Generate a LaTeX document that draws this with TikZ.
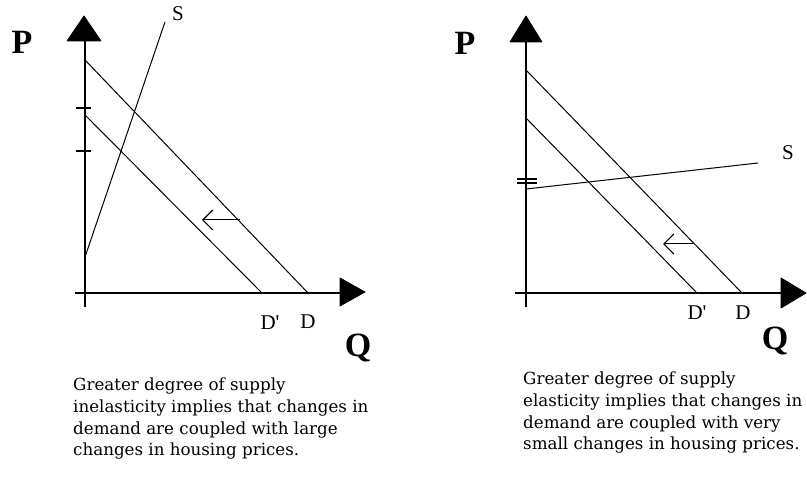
\documentclass[tikz,border=0pt]{standalone}
\usepackage{fontspec}
\setmainfont{Liberation Serif}
\newfontfamily\capfont{DejaVu Serif}
\usetikzlibrary{arrows.meta}
\tikzset{
  axisline/.style={line width=1.6pt},
  curve/.style={line width=1pt},
  tickline/.style={line width=1.4pt},
  headtri/.style={fill=black, draw=black, line width=0.8pt, line join=round},
  shiftarrow/.style={line width=1pt, -{Straight Barb[length=10pt,width=20pt,line width=1.2pt]}},
  axislabel/.style={font=\fontsize{34}{34}\selectfont\bfseries, inner sep=0pt},
  curvelabel/.style={font=\fontsize{21}{21}\selectfont, inner sep=0pt},
  caption/.style={font=\capfont\fontsize{16.7}{21.7}\selectfont, align=left, inner sep=0pt, anchor=north west}
}
\begin{document}
\begin{tikzpicture}[x=1pt,y=-1pt]
\useasboundingbox (0,0) rectangle (807,478);
% ---------- left graph ----------
\coordinate (LYb) at (85,307);
\coordinate (LYt) at (85,41);
\coordinate (LXl) at (75,293);
\coordinate (LXr) at (340,293);
\draw[axisline] (LYb) -- (LYt);
\draw[axisline] (LXl) -- (LXr);
\filldraw[headtri] (67,41) -- (101,41) -- (84,16) -- cycle;
\filldraw[headtri] (340,278) -- (340,306) -- (365,292) -- cycle;
\draw[tickline] (76,108) -- (91,108);
\draw[tickline] (76,151) -- (91,151);
\coordinate (LDa) at (85,60);  \coordinate (LDb) at (308,293);
\coordinate (LDpa) at (85,115); \coordinate (LDpb) at (262,293);
\coordinate (LSa) at (85,257); \coordinate (LSb) at (165,22);
\draw[curve] (LDa) -- (LDb);
\draw[curve] (LDpa) -- (LDpb);
\draw[curve] (LSa) -- (LSb);
\coordinate (LAs) at (240,220); \coordinate (LAe) at (202,220);
\draw[shiftarrow] (LAs) -- (LAe);
\node[curvelabel] (LSl) at (178,14) {S};
\node[curvelabel] (LDpl) at (270,323) {D\textquotesingle};
\node[curvelabel] (LDl) at (308,322) {D};
\node[axislabel] (LP) at (22,42) {P};
\node[axislabel] (LQ) at (358,348) {Q};
\node[caption] (Ltext) at (73,378) {Greater degree of supply\\inelasticity implies that changes in\\demand are coupled with large\\changes in housing prices.};
% ---------- right graph ----------
\coordinate (RYb) at (526,307);
\coordinate (RYt) at (526,42);
\coordinate (RXl) at (515,293);
\coordinate (RXr) at (781,293);
\draw[axisline] (RYb) -- (RYt);
\draw[axisline] (RXl) -- (RXr);
\filldraw[headtri] (510,42) -- (542,42) -- (526,16) -- cycle;
\filldraw[headtri] (781,278) -- (781,308) -- (806,293) -- cycle;
\draw[tickline] (517,179) -- (537,179);
\draw[tickline] (517,183) -- (537,183);
\coordinate (RDa) at (526,70);  \coordinate (RDb) at (742,293);
\coordinate (RDpa) at (526,118); \coordinate (RDpb) at (697,293);
\coordinate (RSa) at (526,189); \coordinate (RSb) at (758,163);
\draw[curve] (RDa) -- (RDb);
\draw[curve] (RDpa) -- (RDpb);
\draw[curve] (RSa) -- (RSb);
\coordinate (RAs) at (693,244); \coordinate (RAe) at (663,244);
\draw[shiftarrow] (RAs) -- (RAe);
\node[curvelabel] (RSl) at (788,153) {S};
\node[curvelabel] (RDpl) at (697,313) {D\textquotesingle};
\node[curvelabel] (RDl) at (743,313) {D};
\node[axislabel] (RP) at (465,43) {P};
\node[axislabel] (RQ) at (775,341) {Q};
\node[caption] (Rtext) at (523,372) {Greater degree of supply\\elasticity implies that changes in\\demand are coupled with very\\small changes in housing prices.};
\end{tikzpicture}
\end{document}
